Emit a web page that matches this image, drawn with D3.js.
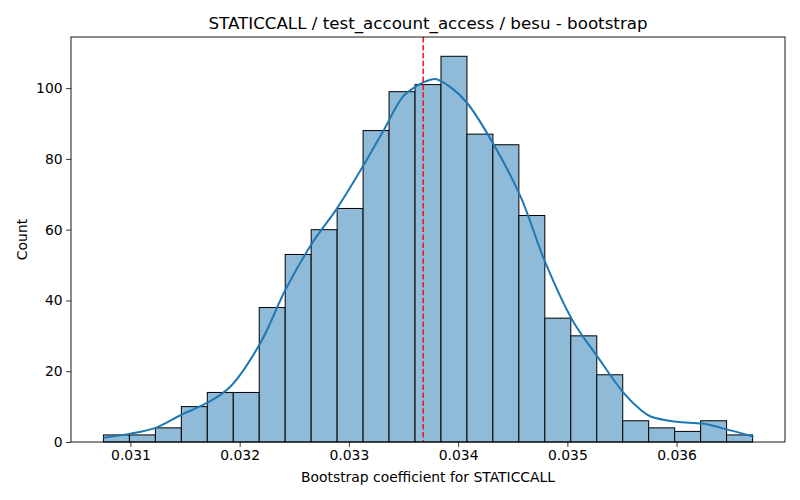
<!DOCTYPE html>
<html>
<head>
<meta charset="utf-8">
<script src="https://cdn.jsdelivr.net/npm/d3@7"></script>
<style>
  html, body { margin: 0; padding: 0; background: #fff; }
  svg { display: block; font-family: "DejaVu Sans", sans-serif; }
</style>
</head>
<body>
<svg id="chart" width="800" height="500"></svg>
<script>
// ---- data ----
const binStart = 0.030753;
const binWidth = 0.0002377;
const counts = [2, 2, 4, 10, 14, 14, 38, 53, 60, 66, 88, 99, 101, 109, 87, 84, 64, 35, 30, 19, 6, 4, 3, 6, 2];
const kdeX = [0.030753, 0.030991, 0.031229, 0.031467, 0.031705, 0.031916, 0.032190, 0.032419, 0.032664,
              0.032893, 0.033136, 0.033320, 0.033495, 0.033615, 0.033702, 0.033793, 0.033930, 0.034083,
              0.034327, 0.034571, 0.034800, 0.035045, 0.035274, 0.035517, 0.035670, 0.035762, 0.036000,
              0.036238, 0.036467, 0.036705];
const kdeY = [1.2, 2.3, 4.0, 7.7, 11.1, 15.7, 28.0, 43.0, 56.2,
              66.1, 78.3, 88.2, 97.6, 100.5, 101.9, 102.6, 100.3, 95.8,
              84.0, 69.4, 50.6, 34.5, 24.2, 13.8, 9.1, 7.2, 5.7,
              5.2, 3.5, 1.5];
const medianValue = 0.033680;
const xTicks = [0.031, 0.032, 0.033, 0.034, 0.035, 0.036];
const yTicks = [0, 20, 40, 60, 80, 100];
const titleText = "STATICCALL / test_account_access / besu - bootstrap";
const xLabel = "Bootstrap coefficient for STATICCALL";
const yLabel = "Count";

// ---- layout ----
const L = 71, R = 785, T = 37, B = 442;
const svg = d3.select("#chart");

const bins = counts.map((c, i) => ({x0: binStart + i * binWidth, x1: binStart + (i + 1) * binWidth, c}));
const dMin = bins[0].x0, dMax = bins[bins.length - 1].x1;
const pad = (dMax - dMin) * 0.05;
const x = d3.scaleLinear().domain([dMin - pad, dMax + pad]).range([L, R]);
const yMax = d3.max(counts) * 1.05;
const y = d3.scaleLinear().domain([0, yMax]).range([B, T]);

// bars
svg.append("g").selectAll("rect").data(bins).join("rect")
  .attr("x", d => x(d.x0))
  .attr("y", d => y(d.c))
  .attr("width", d => x(d.x1) - x(d.x0))
  .attr("height", d => y(0) - y(d.c))
  .attr("fill", "#8fbbd9")
  .attr("stroke", "#000")
  .attr("stroke-width", 1);

// kde
const kde = kdeX.map((v, i) => [v, kdeY[i]]);
svg.append("path").datum(kde)
  .attr("d", d3.line().x(d => x(d[0])).y(d => y(d[1])).curve(d3.curveCatmullRom.alpha(0.5)))
  .attr("fill", "none")
  .attr("stroke", "#1f77b4")
  .attr("stroke-width", 2);

// median line
svg.append("line")
  .attr("x1", x(medianValue)).attr("x2", x(medianValue))
  .attr("y1", T).attr("y2", B)
  .attr("stroke", "#ff0000")
  .attr("stroke-width", 1.4)
  .attr("stroke-dasharray", "5.5,2.4");

// axes
const xAxis = d3.axisBottom(x).tickValues(xTicks).tickFormat(d3.format(".3f")).tickSize(4.9).tickPadding(3.5);
const yAxis = d3.axisLeft(y).tickValues(yTicks).tickFormat(d3.format("d")).tickSize(4.9).tickPadding(3.5);
const gx = svg.append("g").attr("transform", `translate(0,${B})`).call(xAxis);
const gy = svg.append("g").attr("transform", `translate(${L},0)`).call(yAxis);
[gx, gy].forEach(g => {
  g.select(".domain").remove();
  g.selectAll("line").attr("stroke", "#000").attr("stroke-width", 0.8);
  g.selectAll("text").attr("fill", "#000").style("font-size", "13.9px").style("font-family", "DejaVu Sans");
});

// frame
svg.append("rect").attr("x", L).attr("y", T).attr("width", R - L).attr("height", B - T)
  .attr("fill", "none").attr("stroke", "#000").attr("stroke-width", 0.9);

// texts
svg.append("text").attr("x", (L + R) / 2).attr("y", 29).attr("text-anchor", "middle")
  .style("font-size", "16.7px").attr("fill", "#000").text(titleText);
svg.append("text").attr("x", (L + R) / 2).attr("y", 482).attr("text-anchor", "middle")
  .style("font-size", "13.9px").attr("fill", "#000").text(xLabel);
svg.append("text").attr("transform", `translate(27,${(T + B) / 2}) rotate(-90)`).attr("text-anchor", "middle")
  .style("font-size", "13.9px").attr("fill", "#000").text(yLabel);
</script>
</body>
</html>
